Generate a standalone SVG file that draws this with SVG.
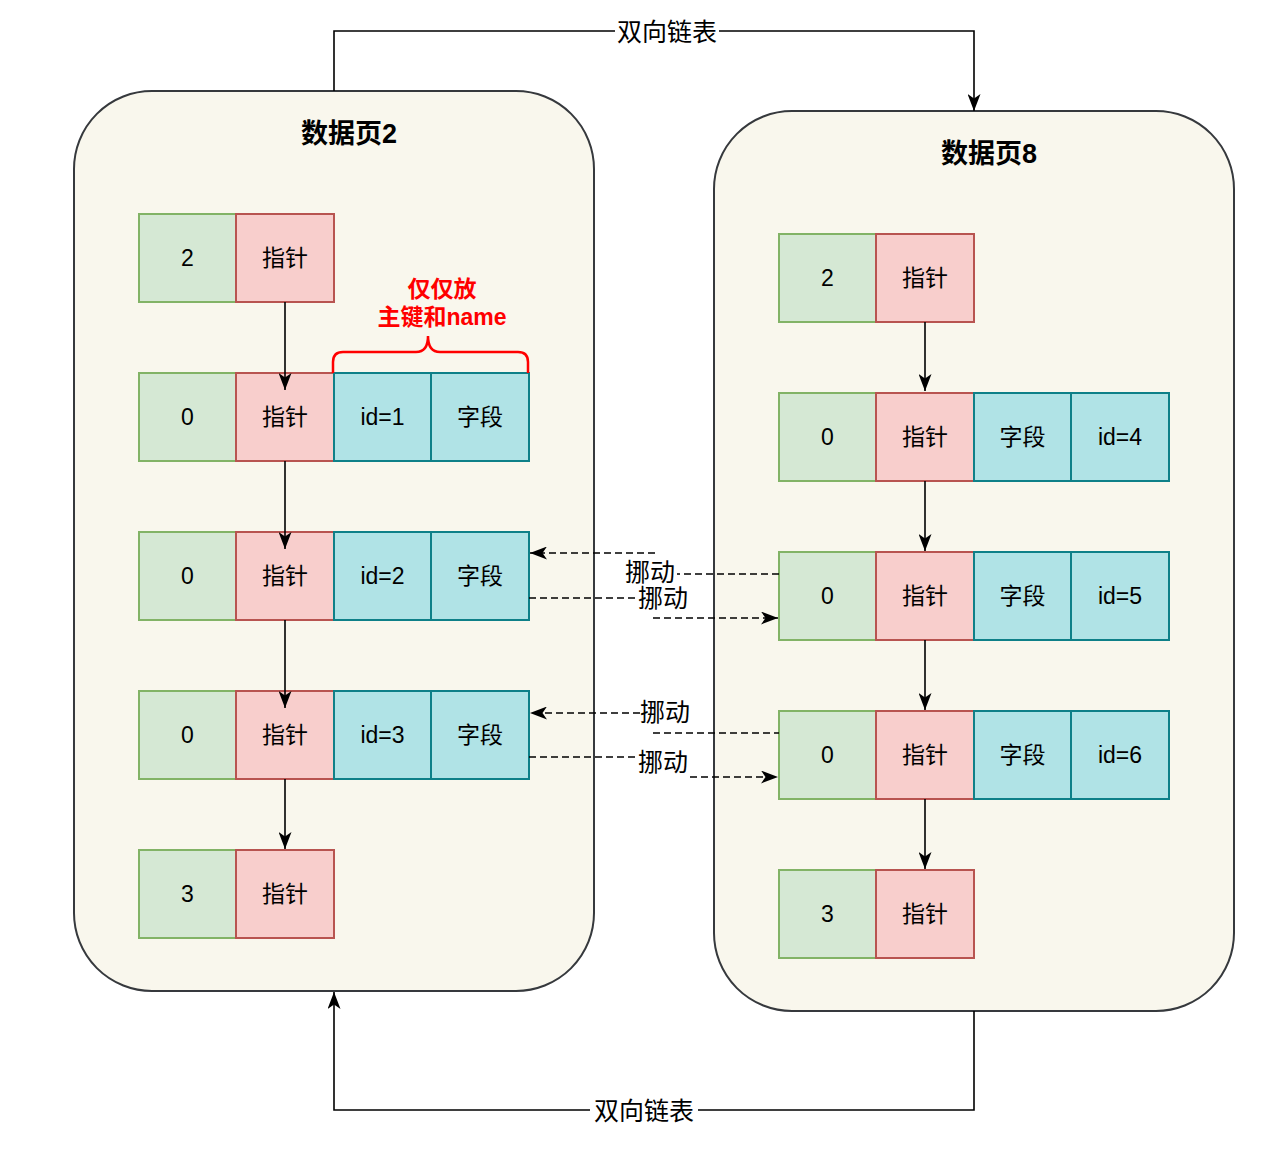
<svg xmlns="http://www.w3.org/2000/svg" width="1288" height="1150" viewBox="0 0 1288 1150">
<style>
text{font-family:"Liberation Sans","Noto Sans CJK SC",sans-serif;text-anchor:middle;dominant-baseline:central;fill:#000}
.page{fill:#f9f7ed;stroke:#36393d;stroke-width:2}
.g{fill:#d5e8d4;stroke:#82b366;stroke-width:2}
.r{fill:#f8cecc;stroke:#b85450;stroke-width:2}
.t{fill:#b0e3e6;stroke:#0e8088;stroke-width:2}
.cell{font-size:23px}
.title{font-size:27px;font-weight:bold}
.lbl{font-size:25px}
.link{fill:none;stroke:#000;stroke-width:1.6}
.dash{fill:none;stroke:#000;stroke-width:1.4;stroke-dasharray:7 4}
.note{font-size:23px;font-weight:bold;fill:#ff0000}
</style>
<defs>
<marker id="ah" viewBox="0 0 17 13" refX="17" refY="6.5" markerWidth="17" markerHeight="13" markerUnits="userSpaceOnUse" orient="auto">
<path d="M0,0 L17,6.5 L0,13 L4.5,6.5 Z" fill="#000"/>
</marker>
</defs>
<rect width="1288" height="1150" fill="#fff"/>

<g id="page2">
<rect class="page" x="74" y="91" width="520" height="900" rx="78" ry="78"/>
<text class="title" x="349" y="134">数据页2</text>
</g>
<g id="page8">
<rect class="page" x="714" y="111" width="520" height="900" rx="78" ry="78"/>
<text class="title" x="989" y="154">数据页8</text>
</g>

<g id="p2-row1">
<rect class="g" x="139" y="214" width="97" height="88"/><text class="cell" x="187.5" y="258">2</text>
<rect class="r" x="236" y="214" width="98" height="88"/><text class="cell" x="285" y="258">指针</text>
</g>
<g id="p2-row2">
<rect class="g" x="139" y="373" width="97" height="88"/><text class="cell" x="187.5" y="417">0</text>
<rect class="r" x="236" y="373" width="98" height="88"/><text class="cell" x="285" y="417">指针</text>
<rect class="t" x="334" y="373" width="97" height="88"/><text class="cell" x="382.5" y="417">id=1</text>
<rect class="t" x="431" y="373" width="98" height="88"/><text class="cell" x="480" y="417">字段</text>
</g>
<g id="p2-row3">
<rect class="g" x="139" y="532" width="97" height="88"/><text class="cell" x="187.5" y="576">0</text>
<rect class="r" x="236" y="532" width="98" height="88"/><text class="cell" x="285" y="576">指针</text>
<rect class="t" x="334" y="532" width="97" height="88"/><text class="cell" x="382.5" y="576">id=2</text>
<rect class="t" x="431" y="532" width="98" height="88"/><text class="cell" x="480" y="576">字段</text>
</g>
<g id="p2-row4">
<rect class="g" x="139" y="691" width="97" height="88"/><text class="cell" x="187.5" y="735">0</text>
<rect class="r" x="236" y="691" width="98" height="88"/><text class="cell" x="285" y="735">指针</text>
<rect class="t" x="334" y="691" width="97" height="88"/><text class="cell" x="382.5" y="735">id=3</text>
<rect class="t" x="431" y="691" width="98" height="88"/><text class="cell" x="480" y="735">字段</text>
</g>
<g id="p2-row5">
<rect class="g" x="139" y="850" width="97" height="88"/><text class="cell" x="187.5" y="894">3</text>
<rect class="r" x="236" y="850" width="98" height="88"/><text class="cell" x="285" y="894">指针</text>
</g>

<g id="p8-row1">
<rect class="g" x="779" y="234" width="97" height="88"/><text class="cell" x="827.5" y="278">2</text>
<rect class="r" x="876" y="234" width="98" height="88"/><text class="cell" x="925" y="278">指针</text>
</g>
<g id="p8-row2">
<rect class="g" x="779" y="393" width="97" height="88"/><text class="cell" x="827.5" y="437">0</text>
<rect class="r" x="876" y="393" width="98" height="88"/><text class="cell" x="925" y="437">指针</text>
<rect class="t" x="974" y="393" width="97" height="88"/><text class="cell" x="1022.5" y="437">字段</text>
<rect class="t" x="1071" y="393" width="98" height="88"/><text class="cell" x="1120" y="437">id=4</text>
</g>
<g id="p8-row3">
<rect class="g" x="779" y="552" width="97" height="88"/><text class="cell" x="827.5" y="596">0</text>
<rect class="r" x="876" y="552" width="98" height="88"/><text class="cell" x="925" y="596">指针</text>
<rect class="t" x="974" y="552" width="97" height="88"/><text class="cell" x="1022.5" y="596">字段</text>
<rect class="t" x="1071" y="552" width="98" height="88"/><text class="cell" x="1120" y="596">id=5</text>
</g>
<g id="p8-row4">
<rect class="g" x="779" y="711" width="97" height="88"/><text class="cell" x="827.5" y="755">0</text>
<rect class="r" x="876" y="711" width="98" height="88"/><text class="cell" x="925" y="755">指针</text>
<rect class="t" x="974" y="711" width="97" height="88"/><text class="cell" x="1022.5" y="755">字段</text>
<rect class="t" x="1071" y="711" width="98" height="88"/><text class="cell" x="1120" y="755">id=6</text>
</g>
<g id="p8-row5">
<rect class="g" x="779" y="870" width="97" height="88"/><text class="cell" x="827.5" y="914">3</text>
<rect class="r" x="876" y="870" width="98" height="88"/><text class="cell" x="925" y="914">指针</text>
</g>

<g id="note">
<path d="M333,373 V362 Q333,352 343,352 H416 Q428,352 428,336 Q428,352 440,352 H518 Q528,352 528,362 V373" fill="none" stroke="#ff0000" stroke-width="2.5"/>
<text class="note" x="442" y="289">仅仅放</text>
<text class="note" x="442" y="317">主键和name</text>
</g>

<g id="connectors">
<path class="link" d="M334,91 V31 H974 V111" marker-end="url(#ah)"/>
<rect x="615" y="18" width="104" height="28" fill="#fff"/>
<text class="lbl" x="667" y="32">双向链表</text>
<path class="link" d="M974,1011 V1110 H334 V992" marker-end="url(#ah)"/>
<rect x="590" y="1097" width="108" height="28" fill="#fff"/>
<text class="lbl" x="644" y="1111">双向链表</text>

<path class="link" d="M285,302 V390" marker-end="url(#ah)"/>
<path class="link" d="M285,461 V549" marker-end="url(#ah)"/>
<path class="link" d="M285,620 V708" marker-end="url(#ah)"/>
<path class="link" d="M285,779 V849" marker-end="url(#ah)"/>
<path class="link" d="M925,322 V391" marker-end="url(#ah)"/>
<path class="link" d="M925,481 V551" marker-end="url(#ah)"/>
<path class="link" d="M925,640 V710" marker-end="url(#ah)"/>
<path class="link" d="M925,799 V869" marker-end="url(#ah)"/>

<path class="dash" d="M655,553 H530" marker-end="url(#ah)"/>
<path class="dash" d="M779,574 H677"/>
<text class="lbl" x="650" y="572">挪动</text>
<path class="dash" d="M529,598 H637"/>
<text class="lbl" x="663" y="598">挪动</text>
<path class="dash" d="M653,618 H778" marker-end="url(#ah)"/>

<path class="dash" d="M640,713 H530" marker-end="url(#ah)"/>
<text class="lbl" x="665" y="712">挪动</text>
<path class="dash" d="M653,733 H779"/>
<path class="dash" d="M529,757 H637"/>
<text class="lbl" x="663" y="762">挪动</text>
<path class="dash" d="M690,777 H778" marker-end="url(#ah)"/>
</g>
</svg>
